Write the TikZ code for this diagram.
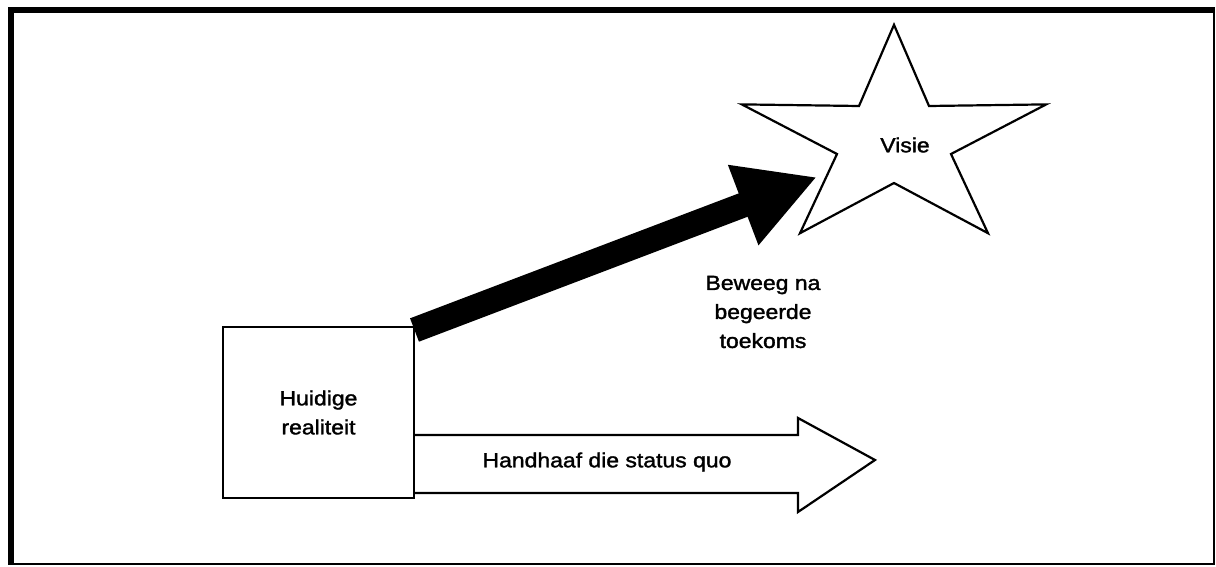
\documentclass[tikz,border=0pt]{standalone}
\usepackage{fontspec}
\setmainfont{Liberation Sans}
\newfontfamily\lblfont[FakeStretch=1.12,FakeBold=1.6]{Liberation Sans}
\usetikzlibrary{arrows.meta}
\begin{document}
\begin{tikzpicture}[x=1pt,y=-1pt,
  lbl/.style={font=\lblfont\fontsize{20.5}{29}\selectfont, align=center, inner sep=0pt},
  outline/.style={draw=black, line width=2.2pt, line join=miter},
  framethick/.style={line width=5.5pt},
  framethin/.style={line width=2.2pt}]
  \useasboundingbox (0,0) rectangle (1216,567);

  % frame
  \draw[framethick] (8,10) -- (1215,10);
  \draw[framethick] (11,7.5) -- (11,565);
  \draw[framethin] (1214,10) -- (1214,565);
  \draw[framethin] (11,564) -- (1215,564);

  % current reality
  \node[outline, lbl, minimum width=191pt, minimum height=171pt] (box) at (318.5,412.5) {Huidige\\realiteit};

  % maintain the status quo (hollow arrow)
  \coordinate (qs) at (414,435);
  \coordinate (qb) at (414,493);
  \coordinate (qtip) at (875,460);
  \draw[outline] (qs) -- (798,435) -- (798,418) -- (qtip) -- (798,512) -- (798,493) -- (qb);
  \node[lbl] (quo) at (607,462) {Handhaaf die status quo};

  % vision star
  \draw[outline] (894,24.8) -- (929,106) -- (1046.2,104.4) -- (951,154)
    -- (988,233.2) -- (894,183) -- (800,233.2) -- (837,154)
    -- (741.8,104.4) -- (859,106) -- cycle;
  \node[lbl] (visie) at (905,145) {Visie};

  % move towards the desired future
  \coordinate (tail) at (414.5,330);
  \coordinate (tip) at (817,177);
  \draw[line width=25pt, line cap=butt, -{Triangle[length=79pt,width=80pt]}] (tail) -- (tip);
  \node[lbl] (beweeg) at (763,312) {Beweeg na\\begeerde\\toekoms};
\end{tikzpicture}
\end{document}
